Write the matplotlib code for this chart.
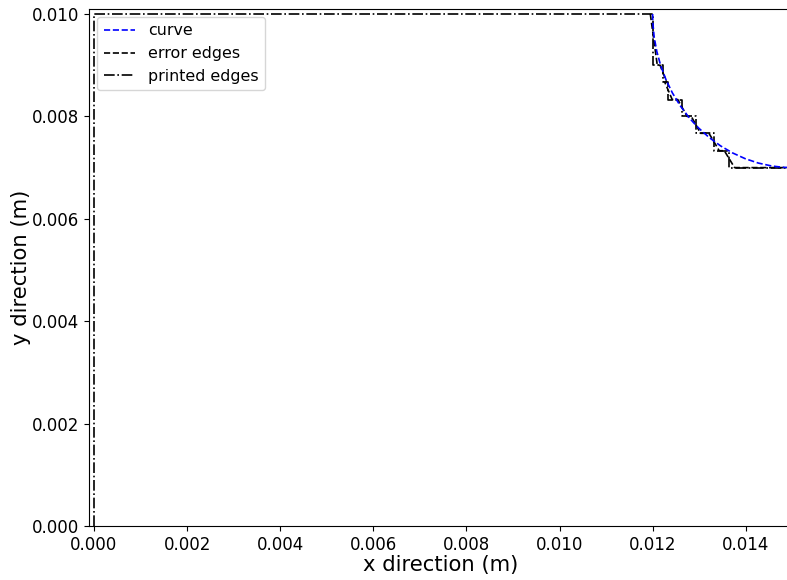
import matplotlib
matplotlib.use("Agg")
import matplotlib.pyplot as plt
from matplotlib.patches import Arc
from matplotlib.lines import Line2D
import numpy as np

# ---- data ----
# circular curve (center, radius) in metres
curve_center = (0.015, 0.010)
curve_radius = 0.003

# printed outline: left wall, top, then staircase
outline_x = [0.0, 0.0, 0.0120]
outline_y = [0.0, 0.0100, 0.0100]
layer_levels = [0.0100, 0.0090, 0.00867, 0.00833, 0.0080, 0.00767, 0.00733, 0.0070]
step_x = [0.01200, 0.01223, 0.01234, 0.01264, 0.01293, 0.01332, 0.01365]
end_x = 0.0150

# error edges: sloped walls of each layer (top x, bottom x)
err_top_x = [0.01195, 0.01216, 0.01226, 0.01254, 0.01283, 0.01321, 0.01354]
err_bot_x = [0.01210, 0.01230, 0.01242, 0.01274, 0.01303, 0.01343, 0.01376]

xticks = [0.000, 0.002, 0.004, 0.006, 0.008, 0.010, 0.012, 0.014]
yticks = [0.000, 0.002, 0.004, 0.006, 0.008, 0.010]

# ---- build line paths ----
px = list(outline_x)
py = list(outline_y)
for i, sx in enumerate(step_x):
    px += [sx, sx]
    py += [layer_levels[i], layer_levels[i + 1]]
px.append(end_x)
py.append(layer_levels[-1])

ex, ey = [], []
for i in range(len(step_x)):
    ex += [err_top_x[i], err_bot_x[i]]
    ey += [layer_levels[i], layer_levels[i + 1]]
ex.append(end_x)
ey.append(layer_levels[-1])

fig = plt.figure(figsize=(7.87, 5.80), dpi=100)
ax = fig.add_axes([89.3 / 787, 54 / 580, 703 / 787, 517.1 / 580])

lw = 1.2
arc = Arc(curve_center, 2 * curve_radius, 2 * curve_radius, theta1=180, theta2=270,
          color='b', linestyle='--', linewidth=lw, zorder=3)
ax.add_patch(arc)
ax.plot(ex, ey, color='k', linestyle='--', linewidth=lw, zorder=2)
ax.plot(px, py, color='k', linestyle='-.', linewidth=lw, zorder=2)

handles = [Line2D([], [], color='b', linestyle='--', linewidth=lw),
           Line2D([], [], color='k', linestyle='--', linewidth=lw),
           Line2D([], [], color='k', linestyle='-.', linewidth=lw)]
ax.legend(handles, ['curve', 'error edges', 'printed edges'], loc='upper left', fontsize=11.4)

ax.set_xlim(-0.0001, 0.015)
ax.set_ylim(0, 0.0101)
ax.set_xticks(xticks)
ax.set_yticks(yticks)
ax.set_xticklabels([f"{v:.3f}" for v in xticks])
ax.set_yticklabels([f"{v:.3f}" for v in yticks])
ax.tick_params(labelsize=12)
ax.set_xlabel('x direction (m)', fontsize=15.2, labelpad=1)
ax.set_ylabel('y direction (m)', fontsize=15.2, labelpad=1)

fig.savefig('out.png', dpi=100)
